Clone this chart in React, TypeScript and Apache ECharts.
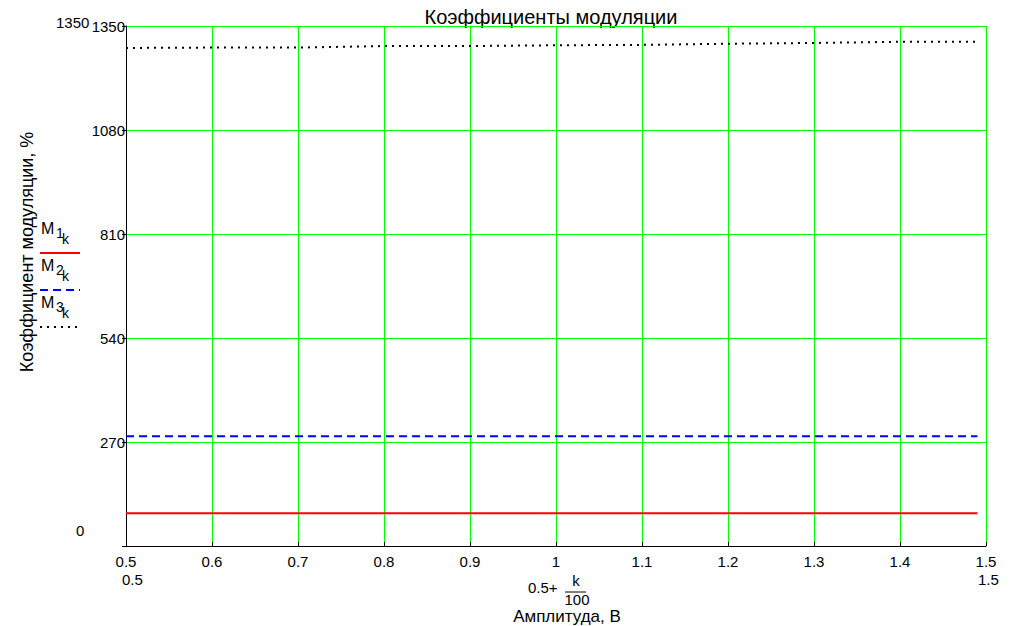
import React, { useEffect, useRef } from "react";
import * as echarts from "echarts";

const xValues = [0.5, 0.6, 0.7, 0.8, 0.9, 1.0, 1.1, 1.2, 1.3, 1.4, 1.49];
const m1 = [85, 85, 85, 85, 85, 85, 85, 85, 85, 85, 85];
const m2 = [285, 285, 285, 285, 285, 285, 285, 285, 285, 285, 285];
const m3 = [1293, 1294, 1294, 1298, 1298, 1300, 1301, 1304, 1306, 1309, 1309];

const yMin = 0;
const yMax = 1350;
const yStep = 270;
const xMin = 0.5;
const xMax = 1.5;
const xStep = 0.1;

const titleText = "Коэффициенты модуляции";
const yTitle = "Коэффициент модуляции, %";
const xTitle = "Амплитуда, В";

const FONT = "'Liberation Sans', Arial, sans-serif";

export default function App() {
  const ref = useRef<HTMLDivElement>(null);
  useEffect(() => {
    if (!ref.current) return;
    const chart = echarts.init(ref.current, null, { renderer: "svg" });
    const pair = (ys: number[]) => xValues.map((x, i) => [x, ys[i]]);
    const txt = (x: number, y: number, text: string, size = 15, extra: any = {}) => ({
      type: "text",
      x,
      y,
      style: { text, fill: "#000", fontSize: size, fontFamily: FONT, ...extra },
    });
    const legendLabel = (y: number, n: string) => [
      txt(41, y, "M", 16),
      txt(56, y + 6, n, 14),
      txt(62, y + 12, "k", 14),
    ];
    chart.setOption({
      animation: false,
      backgroundColor: "#fff",
      textStyle: { fontFamily: FONT },
      grid: { left: 126, right: 33, top: 26, bottom: 80, containLabel: false },
      xAxis: {
        type: "value",
        min: xMin,
        max: xMax,
        interval: xStep,
        axisLine: { lineStyle: { color: "#000", width: 1 } },
        axisTick: { inside: true, length: 4, lineStyle: { color: "#000" } },
        axisLabel: {
          color: "#000",
          fontSize: 15,
          fontFamily: FONT,
          margin: 8,
          formatter: (v: number) => String(Math.round(v * 10) / 10),
        },
        splitLine: { show: true, lineStyle: { color: "#00ff00", width: 1 } },
      },
      yAxis: {
        type: "value",
        min: yMin,
        max: yMax,
        interval: yStep,
        axisLine: { show: true, lineStyle: { color: "#000", width: 1 } },
        axisTick: { show: true, length: 4, lineStyle: { color: "#000" } },
        axisLabel: {
          color: "#000",
          fontSize: 15,
          fontFamily: FONT,
          margin: 1,
          formatter: (v: number) => (v === 0 ? "" : String(v)),
        },
        splitLine: { show: true, lineStyle: { color: "#00ff00", width: 1 } },
      },
      series: [
        {
          type: "line",
          data: pair(m1),
          showSymbol: false,
          lineStyle: { color: "#ff0000", width: 2 },
        },
        {
          type: "line",
          data: pair(m2),
          showSymbol: false,
          lineStyle: { color: "#0000ff", width: 2, type: [8, 5] },
        },
        {
          type: "line",
          data: pair(m3),
          showSymbol: false,
          lineStyle: { color: "#000", width: 2, type: [2, 5] },
        },
      ],
      graphic: [
        txt(551, 7, titleText, 20, { align: "center" }),
        txt(56, 15, String(yMax), 15),
        txt(76, 523, String(yMin), 15),
        txt(122, 572, String(xMin), 15),
        txt(978, 572, String(xMax), 15),
        {
          type: "text",
          x: 18,
          y: 252,
          rotation: Math.PI / 2,
          style: {
            text: yTitle,
            fill: "#000",
            fontSize: 18,
            fontFamily: FONT,
            align: "center",
            verticalAlign: "top",
          },
        },
        txt(528, 580, "0.5+", 15),
        txt(576, 573, "k", 15, { align: "center" }),
        { type: "line", shape: { x1: 565, y1: 592, x2: 586, y2: 592 }, style: { stroke: "#000", lineWidth: 1 } },
        txt(577, 592, "100", 15, { align: "center" }),
        txt(567, 608, xTitle, 17, { align: "center" }),
        ...legendLabel(220, "1"),
        { type: "line", shape: { x1: 40, y1: 253, x2: 80, y2: 253 }, style: { stroke: "#ff0000", lineWidth: 2 } },
        ...legendLabel(257, "2"),
        { type: "line", shape: { x1: 40, y1: 290, x2: 80, y2: 290 }, style: { stroke: "#0000ff", lineWidth: 2, lineDash: [8, 5] } },
        ...legendLabel(294, "3"),
        { type: "line", shape: { x1: 40, y1: 327, x2: 80, y2: 327 }, style: { stroke: "#000", lineWidth: 2, lineDash: [2, 5] } },
      ],
    });
    return () => chart.dispose();
  }, []);
  return (
    <div
      ref={ref}
      style={{ position: "fixed", left: 0, top: 0, width: 1019, height: 626, background: "#fff" }}
    />
  );
}
